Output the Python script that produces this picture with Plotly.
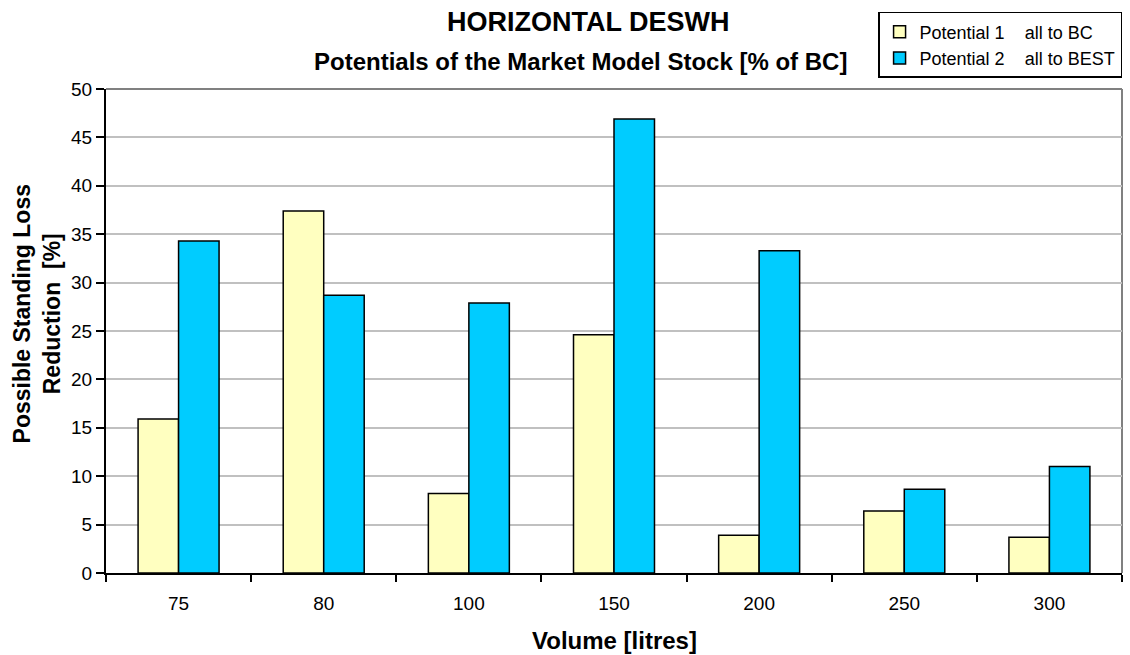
import plotly.graph_objects as go

# Storage volume classes and the two reduction potentials (%)
volumes = ["75", "80", "100", "150", "200", "250", "300"]
potential_1 = [15.9, 37.4, 8.2, 24.6, 3.9, 6.4, 3.7]
potential_2 = [34.3, 28.7, 27.9, 46.9, 33.3, 8.65, 11.0]
series_names = ["Potential 1\u00a0\u00a0\u00a0\u00a0all to BC",
                "Potential 2\u00a0\u00a0\u00a0\u00a0all to BEST"]
y_ticks = list(range(0, 51, 5))

FONT = "Liberation Sans, Arial, sans-serif"
W, H = 1130, 655
L, R, T, B = 105.7, 8, 89, 82.3
plot_w = W - L - R
plot_h = H - T - B


def px_x(px):
    return (px - L) / plot_w


def px_y(py):
    return (H - B - py) / plot_h


fig = go.Figure()
fig.add_trace(go.Bar(x=volumes, y=potential_1, name=series_names[0],
                     legendgroup="p1",
                     marker=dict(color="#FFFFC0", line=dict(color="black", width=1.5))))
fig.add_trace(go.Bar(x=volumes, y=potential_2, name=series_names[1],
                     legendgroup="p2",
                     marker=dict(color="#00CCFF", line=dict(color="black", width=1.5))))

fig.update_layout(
    width=W, height=H,
    margin=dict(l=L, r=R, t=T, b=B, autoexpand=False),
    paper_bgcolor="white", plot_bgcolor="white",
    font=dict(family=FONT, color="black", size=19),
    barmode="group", bargap=0.442, bargroupgap=0,
    showlegend=True,
    legend=dict(x=px_x(878), y=px_y(12), xanchor="left", yanchor="top",
                bordercolor="black", borderwidth=1.5, bgcolor="white",
                font=dict(size=18), itemwidth=30, tracegroupgap=4,
                traceorder="normal"),
    xaxis=dict(type="category", categoryorder="array", categoryarray=volumes,
               range=[-0.5, 6.5],
               showline=True, linecolor="black", linewidth=2,
               ticks="outside", tickson="boundaries", ticklen=7,
               tickcolor="black", tickwidth=2, ticklabelstandoff=12,
               tickfont=dict(size=19), showgrid=False, zeroline=False),
    xaxis2=dict(overlaying="x", anchor="y", side="bottom", range=[-0.5, 6.5],
                tickvals=[i - 0.5 for i in range(len(volumes) + 1)],
                ticks="inside", ticklen=6, tickcolor="black", tickwidth=2,
                showticklabels=False, showgrid=False, zeroline=False,
                showline=False),
    yaxis=dict(range=[0, 50], tickvals=y_ticks, showline=True,
               linecolor="black", linewidth=2, ticks="outside", ticklen=8,
               tickcolor="black", tickwidth=2, tickfont=dict(size=19),
               showgrid=True, gridcolor="#C0C0C0", gridwidth=1.5,
               zeroline=False),
)

# Plot-area frame: grey on top and right
fig.add_shape(type="line", xref="paper", yref="paper", x0=0, x1=1, y0=1, y1=1,
              line=dict(color="#808080", width=2), layer="below")
fig.add_shape(type="line", xref="paper", yref="paper", x0=1, x1=1, y0=0, y1=1,
              line=dict(color="#808080", width=2), layer="below")

# Titles
fig.add_annotation(text="<b>HORIZONTAL DESWH</b>", xref="paper", yref="paper",
                   x=px_x(588), y=px_y(22), xanchor="center", yanchor="middle",
                   showarrow=False, font=dict(size=27))
fig.add_annotation(text="<b>Potentials of the Market Model Stock [% of BC]</b>",
                   xref="paper", yref="paper", x=px_x(580), y=px_y(62),
                   xanchor="center", yanchor="middle", showarrow=False,
                   font=dict(size=24))
fig.add_annotation(text="<b>Volume [litres]</b>", xref="paper", yref="paper",
                   x=px_x(614), y=px_y(640), xanchor="center", yanchor="middle",
                   showarrow=False, font=dict(size=24))
fig.add_annotation(text="<b>Possible Standing Loss<br>Reduction\u00a0\u00a0[%]</b>",
                   xref="paper", yref="paper", x=px_x(37), y=px_y(314),
                   xanchor="center", yanchor="middle", textangle=-90,
                   showarrow=False, font=dict(size=23))

fig.write_html("out.html")
